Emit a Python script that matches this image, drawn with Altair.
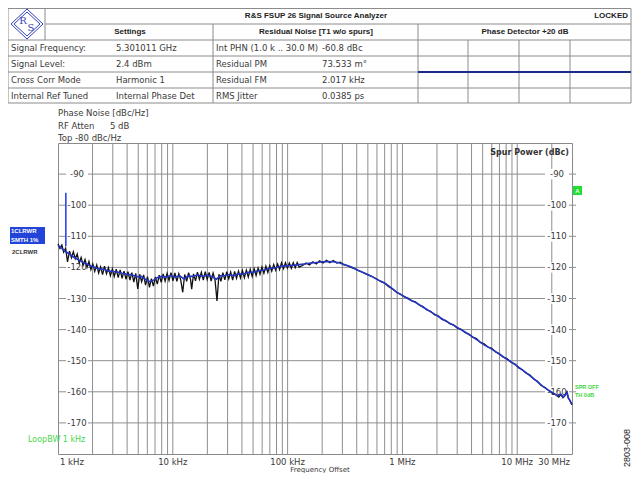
import altair as alt
import pandas as pd

# ---------------- data ----------------
raw_freq = [1000, 1040, 1080, 1120, 1165, 1210, 1260, 1310, 1360, 1415, 1470, 1530, 1590, 1655, 1720,
            1790, 1860, 1935, 2010, 2090, 2175, 2260, 2350, 2445, 2540, 2645, 2750, 2860, 2975, 3090,
            3215, 3345, 3480, 3615, 3760, 3910, 4070, 4230, 4400, 4575, 4760, 4950, 5150, 5355, 5570,
            5790, 6020, 6260, 6510, 6775, 7045, 7325, 7620, 7925, 8240, 8570, 8915, 9270, 9640, 10030,
            10430, 10845, 11280, 11730, 12200, 12690, 13200, 13725, 14275, 14600, 15150, 15760, 16390,
            17045, 17725, 18435, 19170, 19940, 20735, 21565, 22430, 23325, 24260, 25230, 26240, 27290,
            28380, 29515, 30700, 31925, 33200, 34530, 35910, 37350, 38840, 40390, 42010, 43690, 45440,
            47250, 49140, 51110, 53150, 55280, 57490, 59790, 62180, 64670, 67260, 69950, 72750, 75660,
            78680, 81830, 85100, 88500, 92040, 95720, 99550, 103500, 107700, 112000, 116500, 121200,
            126000, 135000, 145000, 155000, 166000, 178000, 190000, 204000, 218000, 233000, 250000,
            268000, 287000, 307000, 330000, 355000, 380000, 410000, 440000, 475000, 510000, 550000,
            600000, 650000, 700000, 760000, 820000, 890000, 960000, 1040000, 1120000, 1210000, 1300000,
            1400000, 1510000, 1630000, 1760000, 1900000, 2050000, 2210000, 2390000, 2580000, 2790000,
            3010000, 3250000, 3510000, 3790000, 4090000, 4420000, 4770000, 5150000, 5560000, 6000000,
            6480000, 7000000, 7560000, 8160000, 8810000, 9520000, 10300000, 11100000, 12000000,
            12900000, 13900000, 15000000, 16200000, 17500000, 18900000, 20400000, 21800000, 23000000,
            24000000, 25000000, 26000000, 27000000, 27800000, 28600000, 29300000, 30000000]
raw_db = [-112.4, -113.9, -112.8, -115.1, -113.8, -118.2, -114.8, -116.9, -115.0, -117.2, -115.7, -118.6,
          -116.8, -119.3, -117.5, -120.0, -118.1, -120.7, -118.9, -121.3, -119.2, -121.8, -119.8, -122.3,
          -119.6, -122.0, -120.1, -122.7, -120.5, -122.9, -120.6, -123.3, -120.8, -123.5, -121.2, -123.8,
          -121.4, -124.1, -121.7, -124.7, -121.9, -126.9, -122.2, -124.6, -122.4, -125.7, -123.0, -126.4,
          -123.6, -126.0, -123.1, -125.4, -122.5, -124.8, -122.1, -124.4, -121.9, -124.2, -121.7, -124.3,
          -121.8, -124.5, -122.0, -124.1, -128.0, -122.3, -124.5, -121.7, -123.9, -127.0, -122.1, -124.3,
          -121.5, -123.8, -121.6, -124.1, -121.4, -123.9, -121.6, -124.4, -121.8, -124.0, -130.8, -122.2,
          -124.5, -121.7, -124.0, -121.4, -123.7, -121.5, -124.1, -121.3, -123.5, -121.2, -123.4, -121.0,
          -123.3, -120.9, -123.1, -120.6, -122.9, -120.4, -122.6, -120.2, -122.2, -119.9, -121.9, -119.6,
          -121.6, -119.4, -121.2, -119.1, -120.9, -118.9, -120.7, -118.5, -120.4, -118.5, -120.2, -118.6,
          -120.3, -118.5, -120.1, -118.4, -119.9, -119.4, -118.6, -119.2, -118.2, -118.9, -117.9, -118.6,
          -117.7, -118.5, -117.8, -118.6, -118.3, -119.1, -119.4, -120.0, -120.3, -121.0, -121.4, -122.0,
          -122.5, -123.0, -123.8, -124.6, -125.1, -126.2, -126.9, -128.0, -128.6, -129.5, -129.9, -130.8,
          -131.1, -132.1, -132.6, -133.7, -134.1, -135.2, -135.6, -136.7, -137.1, -138.1, -138.5, -139.5,
          -139.9, -140.9, -141.4, -142.4, -142.9, -144.1, -144.6, -145.6, -146.0, -147.2, -147.8, -148.9,
          -149.3, -150.5, -151.0, -152.3, -152.9, -154.0, -154.6, -155.9, -156.6, -158.0, -158.6, -159.7,
          -160.6, -161.0, -161.7, -160.9, -161.9, -161.2, -160.0, -162.0, -162.6, -163.5, -164.2]

smooth_freq = [1000, 1080, 1160, 1250, 1350, 1450, 1560, 1680, 1800, 1950, 2100, 2300, 2500, 2750, 3000,
               3300, 3600, 4000, 4400, 4800, 5300, 5800, 6300, 6800, 7300, 8000, 8800, 9600, 10500,
               11500, 12500, 13500, 15000, 16500, 18000, 20000, 22000, 24000, 26000, 28500, 31000,
               34000, 37000, 41000, 45000, 50000, 56000, 62000, 70000, 79000, 90000, 100000, 112000,
               126000, 140000, 160000, 180000, 200000, 225000, 250000, 280000, 320000, 360000, 410000,
               470000, 540000, 620000, 700000, 800000, 900000, 1000000, 1150000, 1320000, 1520000,
               1750000, 2000000, 2300000, 2600000, 3000000, 3450000, 3950000, 4500000, 5150000,
               5900000, 6700000, 7600000, 8600000, 9800000, 11200000, 12800000, 14600000, 16600000,
               18900000, 21000000, 22500000, 24000000, 25200000, 26300000, 27200000, 28000000,
               29000000, 30000000]
smooth_db = [-112.9, -113.9, -114.9, -115.6, -116.6, -117.2, -117.9, -118.5, -119.0, -119.6, -120.0,
             -120.6, -120.5, -121.2, -121.3, -121.5, -121.9, -122.2, -122.4, -123.0, -122.9, -123.9,
             -124.6, -124.1, -123.3, -122.9, -123.1, -122.6, -123.1, -122.7, -123.7, -122.8, -122.9,
             -122.4, -122.9, -122.5, -123.0, -123.8, -122.7, -122.6, -122.3, -122.7, -122.0, -122.2,
             -121.6, -121.6, -121.0, -120.9, -120.3, -120.1, -119.5, -119.5, -119.3, -119.1, -118.9,
             -118.6, -118.4, -118.2, -118.1, -118.2, -118.5, -119.2, -119.9, -120.9, -121.9, -122.9,
             -124.1, -125.0, -126.6, -128.1, -129.0, -130.3, -131.4, -132.8, -134.2, -135.5, -136.9,
             -138.0, -139.3, -140.6, -142.0, -143.4, -144.9, -146.1, -147.4, -148.8, -150.1, -151.5,
             -153.1, -154.7, -156.4, -158.2, -159.6, -160.6, -161.3, -160.8, -161.7, -161.0, -160.2,
             -162.1, -163.0, -164.0]

spur_freq = [1170]
spur_top = [-96.0]
spur_base = [-113.2]

y_ticks = [-90, -100, -110, -120, -130, -140, -150, -160, -170]
x_label_freq = [1e3, 1e4, 1e5, 1e6, 1e7, 3e7]
x_label_text = ["1 kHz", "10 kHz", "100 kHz", "1 MHz", "10 MHz", "30 MHz"]
x_grid = [m * d for d in [1e3, 1e4, 1e5, 1e6] for m in range(1, 10) if m * d > 1e3] + [1e7, 2e7]

# ---------------- layout ----------------
W, H = 514, 311
OX, OY = 58, 143          # page position of the plot's top-left corner
FONT = "DejaVu Sans"
GRID = "#8e8e8e"
TXT = "#3a3a3a"

xs = alt.Scale(type="log", domain=[1e3, 3e7], nice=False)
ys = alt.Scale(domain=[-180, -80], nice=False, zero=False)


def px_rules(segs, color, width):
    df = pd.DataFrame(segs, columns=["x", "y", "x2", "y2"])
    df["x"] -= OX; df["x2"] -= OX; df["y"] -= OY; df["y2"] -= OY
    return alt.Chart(df).mark_rule(color=color, strokeWidth=width).encode(
        x=alt.X("x:Q", scale=None), y=alt.Y("y:Q", scale=None), x2="x2:Q", y2="y2:Q")


def px_text(rows, **kw):
    df = pd.DataFrame(rows, columns=["t", "x", "y"])
    df["x"] -= OX; df["y"] -= OY
    return alt.Chart(df).mark_text(**kw).encode(
        x=alt.X("x:Q", scale=None), y=alt.Y("y:Q", scale=None), text="t:N")


def px_rect(rows, **kw):
    df = pd.DataFrame(rows, columns=["x", "y", "x2", "y2"])
    df["x"] -= OX; df["x2"] -= OX; df["y"] -= OY; df["y2"] -= OY
    return alt.Chart(df).mark_rect(**kw).encode(
        x=alt.X("x:Q", scale=None), y=alt.Y("y:Q", scale=None), x2="x2:Q", y2="y2:Q")


layers = []

# --- header table ---
L, R, T, B = 8, 631, 8.5, 103
rows_y = [24, 40, 56, 72, 88]
segs = [(L, T, R, T), (L, B, R, B), (L, T, L, B), (R, T, R, B),
        (45, T, 45, 40), (45, 24, R, 24)]
segs += [(L, y, R, y) for y in rows_y[1:]]
segs += [(213, 24, 213, B), (418, 24, 418, B)]
segs += [(x, 40, x, B) for x in [468, 519, 570]]
layers.append(px_rules(segs, "#8c8c8c", 1))
layers.append(px_rules([(418, 72, R, 72)], "#1c2a8a", 2))

# logo
cx, cy = 27, 24
dia = [(cx, 9), (43, cy), (cx, 39), (11, cy)]
dsegs = [(dia[i][0], dia[i][1], dia[(i + 1) % 4][0], dia[(i + 1) % 4][1]) for i in range(4)]
dia2 = [(cx, 12), (40, cy), (cx, 36), (14, cy)]
dsegs += [(dia2[i][0], dia2[i][1], dia2[(i + 1) % 4][0], dia2[(i + 1) % 4][1]) for i in range(4)]
layers.append(px_rules(dsegs, "#3544b8", 1))
layers.append(px_text([("R", 23, 21), ("S", 31, 28)], font="DejaVu Serif", fontSize=10,
                      color="#3544b8", align="center", baseline="middle"))

hb = dict(font="Liberation Sans", fontSize=8, fontWeight="bold", color="#222", baseline="middle")
layers.append(px_text([("R&S FSUP 26 Signal Source Analyzer", 316, 16),
                       ("Settings", 130, 32),
                       ("Residual Noise [T1 w/o spurs]", 316, 32),
                       ("Phase Detector +20 dB", 525, 32)], align="center", **hb))
layers.append(px_text([("LOCKED", 628, 16)], align="right", **hb))
hn = dict(font=FONT, fontSize=8.5, color=TXT, baseline="middle", align="left")
layers.append(px_text([("Signal Frequency:", 11, 48), ("5.301011 GHz", 116, 48),
                       ("Signal Level:", 11, 64), ("2.4 dBm", 116, 64),
                       ("Cross Corr Mode", 11, 80), ("Harmonic 1", 116, 80),
                       ("Internal Ref Tuned", 11, 96), ("Internal Phase Det", 116, 96),
                       ("Int PHN (1.0 k .. 30.0 M)", 216, 48), ("-60.8 dBc", 322, 48),
                       ("Residual PM", 216, 64), ("73.533 m°", 322, 64),
                       ("Residual FM", 216, 80), ("2.017 kHz", 322, 80),
                       ("RMS Jitter", 216, 96), ("0.0385 ps", 322, 96)], **hn))

# --- texts above plot ---
layers.append(px_text([("Phase Noise [dBc/Hz]", 58, 113), ("RF Atten", 58, 126), ("5 dB", 110, 126),
                       ("Top  -80 dBc/Hz", 58, 138)], **hn))

# --- grid ---
layers.append(alt.Chart(pd.DataFrame({"f": x_grid})).mark_rule(color=GRID, strokeWidth=1).encode(
    x=alt.X("f:Q", scale=xs, axis=None), y=alt.value(0), y2=alt.value(H)))
layers.append(alt.Chart(pd.DataFrame({"v": y_ticks})).mark_rule(color=GRID, strokeWidth=1).encode(
    y=alt.Y("v:Q", scale=ys, axis=None), x=alt.value(0), x2=alt.value(W + 4)))

# white boxes behind the y labels, then labels
yl = pd.DataFrame({"v": y_ticks})
yl["top"] = yl["v"] + 1.7
yl["bot"] = yl["v"] - 1.7
yl["lab"] = yl["v"].astype(int).astype(str)
for xa, xb in [(8, 30), (487, 511)]:
    layers.append(alt.Chart(yl).mark_rect(color="white").encode(
        y=alt.Y("top:Q", scale=ys, axis=None), y2="bot:Q", x=alt.value(xa), x2=alt.value(xb)))
for xc in [19, 499]:
    layers.append(alt.Chart(yl).mark_text(font=FONT, fontSize=8.5, color=TXT, align="center",
                                          baseline="middle").encode(
        y=alt.Y("v:Q", scale=ys, axis=None), x=alt.value(xc), text="lab:N"))

# --- traces ---
layers.append(alt.Chart(pd.DataFrame({"f": raw_freq, "v": raw_db})).mark_line(
    color="#111111", strokeWidth=1.3).encode(
    x=alt.X("f:Q", scale=xs, axis=None), y=alt.Y("v:Q", scale=ys, axis=None), order="f:Q"))
layers.append(alt.Chart(pd.DataFrame({"f": smooth_freq, "v": smooth_db})).mark_line(
    color="#2436c4", strokeWidth=1.6).encode(
    x=alt.X("f:Q", scale=xs, axis=None), y=alt.Y("v:Q", scale=ys, axis=None), order="f:Q"))
layers.append(alt.Chart(pd.DataFrame({"f": spur_freq, "a": spur_top, "b": spur_base})).mark_rule(
    color="#2a44ee", strokeWidth=1.6).encode(
    x=alt.X("f:Q", scale=xs, axis=None), y=alt.Y("a:Q", scale=ys, axis=None), y2="b:Q"))

# --- x labels ---
xl = pd.DataFrame({"f": x_label_freq, "t": x_label_text})
xstyle = dict(font=FONT, fontSize=8.5, color=TXT, baseline="middle")
layers.append(alt.Chart(xl.iloc[:1]).mark_text(align="left", dx=2, **xstyle).encode(
    x=alt.X("f:Q", scale=xs, axis=None), y=alt.value(H + 8), text="t:N"))
layers.append(alt.Chart(xl.iloc[1:5]).mark_text(align="center", **xstyle).encode(
    x=alt.X("f:Q", scale=xs, axis=None), y=alt.value(H + 8), text="t:N"))
layers.append(alt.Chart(xl.iloc[5:]).mark_text(align="right", dx=-2, **xstyle).encode(
    x=alt.X("f:Q", scale=xs, axis=None), y=alt.value(H + 8), text="t:N"))
layers.append(px_text([("Frequency Offset", 320, 466)], font=FONT, fontSize=7, color=TXT,
                      align="center", baseline="top"))

# --- annotations ---
layers.append(px_text([("Spur Power (dBc)", 569, 153)], font=FONT, fontSize=8, fontWeight="bold",
                      color="#333", align="right", baseline="middle"))
layers.append(px_rect([(10, 227, 45, 244)], color="#2344d8"))
layers.append(px_text([("1CLRWR", 11, 231), ("SMTH 1%", 11, 240)], font="Liberation Sans",
                      fontSize=6, fontWeight="bold", color="white", align="left", baseline="middle"))
layers.append(px_text([("2CLRWR", 12, 252)], font="Liberation Sans", fontSize=6, fontWeight="bold",
                      color="#333", align="left", baseline="middle"))
layers.append(px_text([("LoopBW 1 kHz", 28, 440)], font=FONT, fontSize=8, color="#4ad64a",
                      align="left", baseline="middle"))
layers.append(px_rect([(573, 186, 582, 195)], color="#22dd33"))
layers.append(px_text([("A", 577.5, 190.5)], font="Liberation Sans", fontSize=6, fontWeight="bold",
                      color="#e8ffe8", align="center", baseline="middle"))
layers.append(px_text([("SPR OFF", 575, 387), ("TH 0dB", 575, 395)], font="Liberation Sans",
                      fontSize=5.5, fontWeight="bold", color="#3ad63a", align="left", baseline="middle"))
layers.append(px_text([("2803-008", 627, 448)], font="Liberation Sans", fontSize=9, color="#222",
                      align="center", baseline="middle", angle=270))

chart = alt.layer(*layers).properties(
    width=W, height=H,
    autosize=alt.AutoSizeParams(type="none"),
    padding={"left": 50, "top": 135, "right": 60, "bottom": 19},
    background="white",
).configure_view(stroke="#8a8a8a", strokeWidth=1)

chart.save("out.html", embed_options={"renderer": "svg", "actions": False})
